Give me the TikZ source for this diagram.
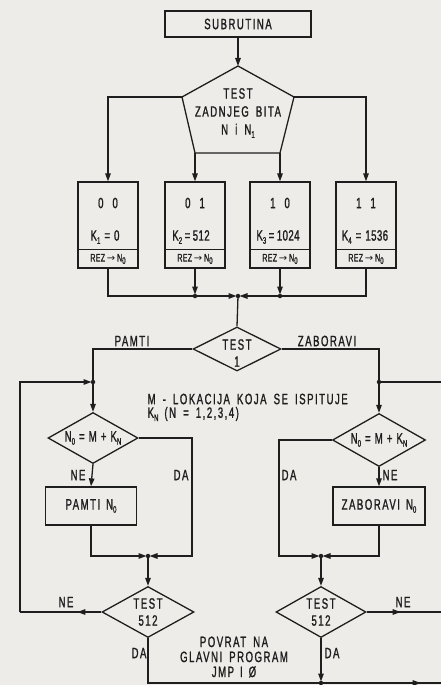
\documentclass[tikz,border=0pt]{standalone}
\usepackage{fontspec}
\setmainfont{Liberation Sans}[FakeStretch=0.64,FakeBold=1.2,LetterSpace=10,WordSpace=1.7]
\newfontfamily\tightfont{Liberation Sans}[FakeStretch=0.64,FakeBold=1.2,LetterSpace=3,WordSpace=1.3]
\newfontfamily\arrfont{DejaVu Sans}
\usetikzlibrary{shapes.geometric,arrows.meta,calc,decorations.markings}
\definecolor{paper}{RGB}{237,236,233}
\definecolor{ink}{RGB}{30,30,30}
\newcommand\lsub[1]{\raisebox{-0.4ex}{\fontsize{9.5}{9.5}\selectfont #1}}
\newcommand\rezto{REZ\,{\arrfont\fontsize{10}{10}\selectfont →}\,N\lsub{0}}
\begin{document}
\begin{tikzpicture}[x=1pt,y=-1pt, line width=1.3pt, color=ink,
  arr/.style={-{Triangle[length=8pt,width=5.5pt]}},
  midarr/.style={postaction={decorate}, decoration={markings, mark=at position #1 with {\arrow{Triangle[length=8pt,width=5.5pt]}}}},
  txt/.style={font=\fontsize{15}{17}\selectfont, inner sep=0},
  small/.style={font=\tightfont\fontsize{11}{12}\selectfont, inner sep=0},
  box/.style={draw, rectangle, inner sep=0},
  dia/.style={draw, diamond, inner sep=0},
  dot/.style={circle, fill=ink, inner sep=0, minimum size=4.5pt},
]
\fill[paper] (0,0) rectangle (441,685);
\useasboundingbox (0,0) rectangle (441,685);

% top
\node[box, minimum width=146pt, minimum height=26pt, txt] (sub) at (238,24) {SUBRUTINA};
\coordinate (pt) at (238,66);
\coordinate (pr) at (294,97);
\coordinate (pbr) at (280,153);
\coordinate (pbl) at (195,153);
\coordinate (pl) at (182,97);
\draw (pt) -- (pr) -- (pbr) -- (pbl) -- (pl) -- cycle;
\node[txt, align=center, font=\fontsize{15}{18}\selectfont] (test) at (238,113) {TEST\\ZADNJEG BITA\\N i N\lsub{1}};
\draw[arr] (sub) -- (pt);

% four boxes
\foreach \n/\x in {1/108,2/195,3/280,4/366}{
  \node[box, minimum width=60pt, minimum height=86pt] (b\n) at (\x,225) {};
  \draw ($(b\n.south west)+(0,-19)$) -- ($(b\n.south east)+(0,-19)$);
  \node[small] (r\n) at (\x,259) {\rezto};
}
\node[txt] (c1) at (108,203) {0\hspace{9pt}0};
\node[txt] (c2) at (195,203) {0\hspace{9pt}1};
\node[txt] (c3) at (280,203) {1\hspace{9pt}0};
\node[txt] (c4) at (366,203) {1\hspace{9pt}1};
\node[txt, font=\tightfont\fontsize{15}{17}\selectfont] (k1) at (105,237) {K\lsub{1} = 0};
\node[txt, font=\tightfont\fontsize{15}{17}\selectfont] (k2) at (191,237) {K\lsub{2}\,=\,512};
\node[txt, font=\tightfont\fontsize{15}{17}\selectfont] (k3) at (278,237) {K\lsub{3}\,=\,1024};
\node[txt, font=\tightfont\fontsize{15}{17}\selectfont] (k4) at (365,237) {K\lsub{4} = 1536};

\draw[arr] (pl) -| (b1.north);
\draw[arr] (pr) -| (b4.north);
\draw[arr] (pbl) -- (b2.north);
\draw[arr] (pbr) -- (b3.north);

% bus
\coordinate (j) at (238,296);
\draw[arr, shorten >=1.5pt] (b1.south) |- (j);
\draw[arr, shorten >=1.5pt] (b4.south) |- (j);
\draw[arr, shorten >=1.5pt] (b2.south) -- (b2.south |- j);
\draw[arr, shorten >=1.5pt] (b3.south) -- (b3.south |- j);
\node[dot] at (j) {};
\node[dot] at (b2.south |- j) {};
\node[dot] at (b3.south |- j) {};

% TEST 1
\node[dia, minimum width=88pt, minimum height=44pt] (t1) at (237,349) {};
\node[txt, align=center] (t1t) at (237,353) {TEST\\1};
\draw (j) -- (t1.north);
\node[txt] (pamti) at (132,341) {PAMTI};
\node[txt] (zab) at (327,341) {ZABORAVI};

\coordinate (jl) at (93,382);
\coordinate (jr) at (379,382);
\draw (t1.west) -| (jl);
\draw (t1.east) -| (jr);
\node[dot] at (jl) {};
\node[dot] at (jr) {};

\node[txt, anchor=west] (mlok) at (147,399) {M - LOKACIJA KOJA SE ISPITUJE};
\node[txt, anchor=west] (kn) at (147,414) {K\lsub{N}\hspace{6pt}(N = 1,2,3,4)};

% decision diamonds
\node[dia, minimum width=90pt, minimum height=51pt] (d1) at (93,438) {};
\node[txt, font=\tightfont\fontsize{15}{17}\selectfont] (d1t) at (93,438) {N\lsub{0} = M + K\lsub{N}};
\node[dia, minimum width=93pt, minimum height=53pt] (d2) at (379,440) {};
\node[txt, font=\tightfont\fontsize{15}{17}\selectfont] (d2t) at (379,440) {N\lsub{0} = M + K\lsub{N}};
\draw[arr] (jl) -- (d1.north);
\draw[arr] (jr) -- (d2.north);

\node[box, minimum width=91pt, minimum height=38pt, txt] (pm) at (91,506) {PAMTI\hspace{6pt}N\lsub{0}};
\node[box, minimum width=92pt, minimum height=38pt, txt] (zm) at (379,506) {ZABORAVI\hspace{6pt}N\lsub{0}};
\draw[arr] (d1.south) -- (pm.north);
\draw[arr] (d2.south) -- (zm.north);
\node[txt] (ne1) at (78,475) {NE};
\node[txt] (da1) at (181,475) {DA};
\node[txt] (da2) at (289,475) {DA};
\node[txt] (ne2) at (390,475) {NE};

% merge junctions
\coordinate (jl2) at (148,556);
\coordinate (jr2) at (321,556);
\coordinate (cl) at (192,556);
\coordinate (cr) at (279,556);
\draw[arr, shorten >=1.5pt] (d1.east) -| (cl) -- (jl2);
\draw[arr, shorten >=1.5pt] (pm.south) |- (jl2);
\draw[arr, shorten >=1.5pt] (d2.west) -| (cr) -- (jr2);
\draw[arr, shorten >=1.5pt] (zm.south) |- (jr2);
\node[dot] at (jl2) {};
\node[dot] at (jr2) {};

% TEST 512
\node[dia, minimum width=92pt, minimum height=51pt] (t5l) at (148,612) {};
\node[txt, align=center] (t5lt) at (148,612) {TEST\\512};
\node[dia, minimum width=90pt, minimum height=51pt] (t5r) at (321,612) {};
\node[txt, align=center] (t5rt) at (321,612) {TEST\\512};
\draw[arr] (jl2) -- (t5l.north);
\draw[arr] (jr2) -- (t5r.north);

% loops
\coordinate (lb) at (20,612);
\coordinate (lt) at (20,382);
\draw[midarr=24pt] (t5l.west) -- (lb);
\draw[arr, shorten >=1.5pt] (lb) -- (lt) -- (jl);
\coordinate (rt) at (441,382);
\coordinate (rb) at (441,612);
\draw (jr) -- (rt);
\draw[midarr=34pt] (t5r.east) -- (rb);
\node[txt] (ne3) at (66,602) {NE};
\node[txt] (ne4) at (403,602) {NE};

% return
\coordinate (ret) at (321,683);
\coordinate (bl) at (148,683);
\coordinate (br) at (441,683);
\draw[midarr=0.94] (t5l.south) -- (bl) -- (br);
\draw[arr, shorten >=1.5pt] (t5r.south) -- (ret);
\node[dot] at (ret) {};
\node[txt] (da3) at (139,653) {DA};
\node[txt] (da4) at (332,653) {DA};
\node[txt, align=center, font=\fontsize{15}{15}\selectfont] (povrat) at (234,657) {POVRAT NA\\GLAVNI PROGRAM\\JMP\hspace{6pt}I\hspace{6pt}Ø};
\end{tikzpicture}
\end{document}
